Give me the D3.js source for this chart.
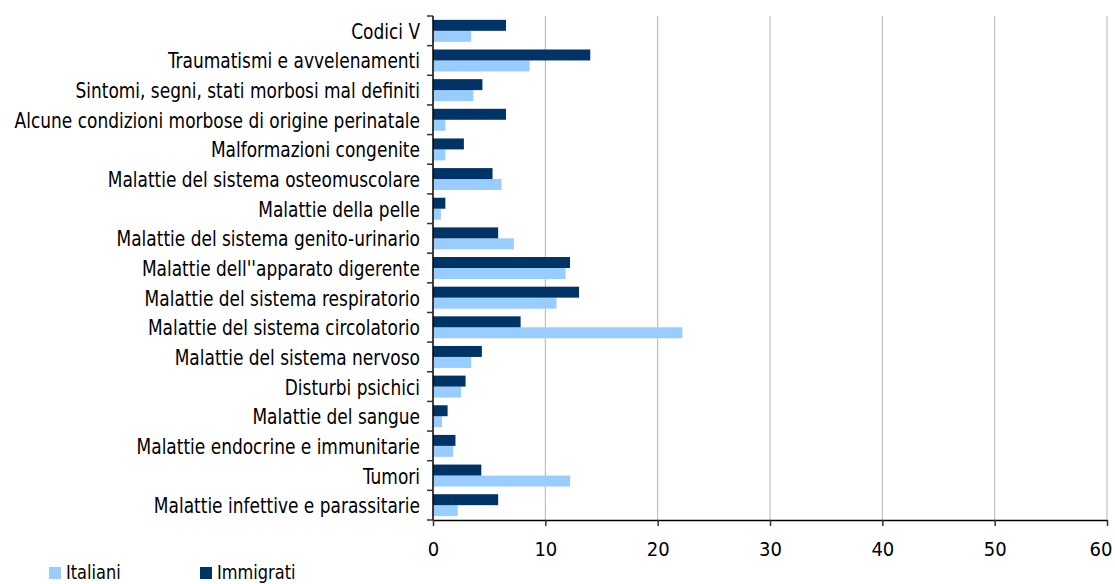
<!DOCTYPE html>
<html>
<head>
<meta charset="utf-8">
<script src="https://d3js.org/d3.v7.min.js"></script>
<style>
body { margin: 0; background: #fff; }
svg text { font-family: "DejaVu Sans Condensed", "DejaVu Sans", sans-serif; fill: #000; }
</style>
</head>
<body>
<svg id="chart" width="1115" height="584"></svg>
<script>
// categories bottom -> top as in the picture
var categories = [
    "Malattie infettive e parassitarie",
    "Tumori",
    "Malattie endocrine e immunitarie",
    "Malattie del sangue",
    "Disturbi psichici",
    "Malattie del sistema nervoso",
    "Malattie del sistema circolatorio",
    "Malattie del sistema respiratorio",
    "Malattie dell''apparato digerente",
    "Malattie del sistema genito-urinario",
    "Malattie della pelle",
    "Malattie del sistema osteomuscolare",
    "Malformazioni congenite",
    "Alcune condizioni morbose di origine perinatale",
    "Sintomi, segni, stati morbosi mal definiti",
    "Traumatismi e avvelenamenti",
    "Codici V"
]
var italiani  = [2.2, 12.2, 1.8, 0.8, 2.5, 3.4, 22.2, 11.0, 11.8, 7.2, 0.7, 6.1, 1.1, 1.1, 3.6, 8.6, 3.4]
var immigrati = [5.8, 4.3, 2.0, 1.3, 2.9, 4.35, 7.8, 13.0, 12.2, 5.8, 1.1, 5.3, 2.75, 6.5, 4.4, 14.0, 6.5]
var xTicks = [0, 10, 20, 30, 40, 50, 60]
var seriesNames = ["Italiani", "Immigrati"]
var colors = {"Italiani": "#99ccff", "Immigrati": "#003366"}

var margin = {top: 16, right: 8, bottom: 64, left: 433};
var width = 1115 - margin.left - margin.right;
var height = 584 - margin.top - margin.bottom;
var squeeze = 0.9; // the original font is tall and narrow

var svg = d3.select("#chart")
    .append("g")
    .attr("transform", "translate(" + margin.left + "," + margin.top + ")");

var xScale = d3.scaleLinear().domain([0, 60]).range([0, width]);
// top of the chart is the last category
var yScale = d3.scaleBand()
    .domain(categories.slice().reverse())
    .range([0, height])
    .paddingInner(0.26)
    .paddingOuter(0.13);
var inner = d3.scaleBand()
    .domain(["Immigrati", "Italiani"])
    .range([0, yScale.bandwidth()]);

// grid lines
svg.append("g")
    .selectAll("line")
    .data(xTicks.slice(1))
    .enter().append("line")
    .attr("x1", function(d){ return xScale(d) })
    .attr("x2", function(d){ return xScale(d) })
    .attr("y1", 0)
    .attr("y2", height)
    .attr("stroke", "#b3b3b3")
    .attr("stroke-width", 1);

var rows = categories.map(function(c, i){
    return {cat: c, Italiani: italiani[i], Immigrati: immigrati[i]}
})

var groups = svg.selectAll(".row")
    .data(rows)
    .enter().append("g")
    .attr("class", "row")
    .attr("transform", function(d){ return "translate(0," + yScale(d.cat) + ")" });

groups.selectAll("rect")
    .data(function(d){ return seriesNames.map(function(s){ return {key: s, value: d[s]} }) })
    .enter().append("rect")
    .attr("x", 0)
    .attr("y", function(d){ return inner(d.key) })
    .attr("height", inner.bandwidth())
    .attr("width", function(d){ return xScale(d.value) })
    .attr("fill", function(d){ return colors[d.key] });

// x axis
var xAxis = svg.append("g")
    .attr("transform", "translate(0," + height + ")")
    .call(d3.axisBottom(xScale).tickValues(xTicks).tickSize(6).tickPadding(16).tickSizeOuter(0));
xAxis.select(".domain").attr("stroke", "#000").attr("stroke-width", 1.5);
xAxis.selectAll(".tick line").attr("stroke", "#333").attr("stroke-width", 1.5);
xAxis.selectAll("text")
    .style("font-family", "\"DejaVu Sans Condensed\", \"DejaVu Sans\", sans-serif")
    .style("font-size", "20px")
    .attr("fill", "#000")
    // last label would run off the right edge
    .attr("text-anchor", function(d){ return d === 60 ? "end" : "middle" })
    .attr("x", function(d){ return d === 60 ? 5 : 0 });

// y axis: ticks between categories
var step = height / categories.length;
var yAxis = svg.append("g");
yAxis.append("line")
    .attr("x1", 0).attr("x2", 0)
    .attr("y1", 0).attr("y2", height)
    .attr("stroke", "#000").attr("stroke-width", 1.5);
yAxis.selectAll(".ytick")
    .data(d3.range(categories.length + 1))
    .enter().append("line")
    .attr("class", "ytick")
    .attr("x1", -6).attr("x2", 0)
    .attr("y1", function(i){ return i * step })
    .attr("y2", function(i){ return i * step })
    .attr("stroke", "#333").attr("stroke-width", 1.5);
yAxis.selectAll(".ylabel")
    .data(categories)
    .enter().append("g")
    .attr("class", "ylabel")
    .attr("transform", function(d){
        return "translate(-13," + (yScale(d) + yScale.bandwidth() / 2) + ") scale(" + squeeze + ",1)"
    })
    .append("text")
    .attr("dy", "0.38em")
    .attr("text-anchor", "end")
    .style("font-size", "21px")
    .text(function(d){ return d });

// legend
var legend = d3.select("#chart").append("g")
    .attr("transform", "translate(49,567)");
var legendItems = legend.selectAll("g")
    .data(seriesNames)
    .enter().append("g")
    .attr("transform", function(d, i){ return "translate(" + (i * 151) + ",0)" });
legendItems.append("rect")
    .attr("width", 12).attr("height", 12)
    .attr("fill", function(d){ return colors[d] });
legendItems.append("g")
    .attr("transform", "translate(17,12) scale(" + squeeze + ",1)")
    .append("text")
    .style("font-size", "20px")
    .text(function(d){ return d });
</script>
</body>
</html>
